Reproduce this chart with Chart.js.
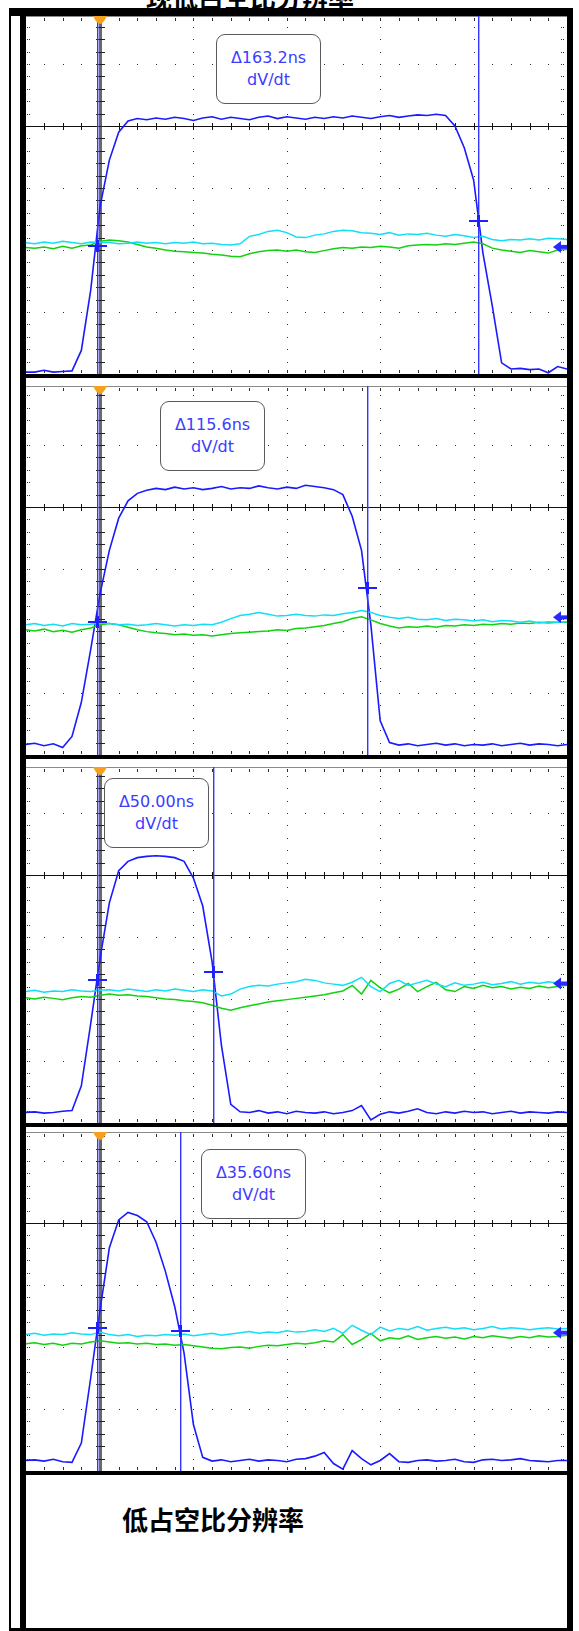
<!DOCTYPE html>
<html lang="zh">
<head>
<meta charset="UTF-8">
<title>dV/dt</title>
<script src="https://cdn.jsdelivr.net/npm/chart.js@4.4.0/dist/chart.umd.min.js"></script>
<style>
  html, body { margin: 0; padding: 0; background: #fff; }
  body { width: 579px; height: 1631px; position: relative; overflow: hidden; }
  .blk { position: absolute; background: #000; }
  .plot { position: absolute; left: 26px; }
  .box {
    position: absolute; width: 105px; height: 70px; box-sizing: border-box;
    border: 1.5px solid #5a5a5a; border-radius: 9px; background: #fff;
    color: #3c3cff; font: 16px "DejaVu Sans", sans-serif; line-height: 22px;
    text-align: center; padding-top: 12px;
  }
  .cap { position: absolute; font: bold 26px "Noto Sans CJK SC", sans-serif; line-height: 26px; color: #000; white-space: nowrap; }
</style>
</head>
<body>

<div class="cap" style="left:146px; top:-16px;">现低占空比分辨率</div>

<!-- outer frame -->
<div class="blk" style="left:9px; top:8px; width:564px; height:8px;"></div>
<div class="blk" style="left:9px; top:8px; width:2px; height:1623px;"></div>
<div class="blk" style="left:20px; top:8px; width:6px; height:1623px;"></div>
<div class="blk" style="left:567px; top:8px; width:6px; height:1623px;"></div>
<div class="blk" style="left:20px; top:374px; width:553px; height:4px;"></div>
<div class="blk" style="left:20px; top:755px; width:553px; height:4px;"></div>
<div class="blk" style="left:20px; top:1123px; width:553px; height:4px;"></div>
<div class="blk" style="left:20px; top:1471px; width:553px; height:4px;"></div>
<div class="blk" style="left:9px; top:1628px; width:564px; height:3px;"></div>

<canvas id="p1" class="plot" width="541" height="358" style="top:16px"></canvas>
<canvas id="p2" class="plot" width="541" height="369" style="top:386px"></canvas>
<canvas id="p3" class="plot" width="541" height="356" style="top:767px"></canvas>
<canvas id="p4" class="plot" width="541" height="339" style="top:1132px"></canvas>

<div class="cap" style="left:122px; top:1506px;">低占空比分辨率</div>

<script>
// time axis in ns (40 ns per division), trace values in divisions above the bottom edge
const TIME = [-32,-28,-24,-20,-16,-12,-8,-4,0,4,8,12,16,20,24,28,32,36,40,44,48,52,56,60,64,68,72,76,80,84,88,92,96,100,104,108,112,116,120,124,128,132,136,140,144,148,152,156,160,164,168,172,176,180,184,188,192,196,200];

const p1Blue = [0.03,0.03,0.06,0.03,0.04,0.05,0.38,1.35,2.7,3.45,3.9,4.08,4.12,4.1,4.13,4.11,4.14,4.12,4.09,4.13,4.15,4.11,4.14,4.12,4.1,4.14,4.16,4.12,4.15,4.13,4.11,4.14,4.12,4.15,4.13,4.16,4.14,4.12,4.15,4.17,4.14,4.16,4.18,4.17,4.19,4.17,4.0,3.65,3.13,1.95,1.1,0.18,0.08,0.09,0.07,0.08,0.02,0.12,0.08];
const p1Cyan = [2.12,2.10,2.13,2.11,2.14,2.12,2.10,2.13,2.12,2.12,2.10,2.11,2.13,2.11,2.12,2.10,2.12,2.11,2.13,2.10,2.11,2.09,2.08,2.10,2.22,2.25,2.30,2.32,2.28,2.21,2.20,2.24,2.26,2.30,2.32,2.31,2.28,2.27,2.25,2.28,2.24,2.26,2.25,2.27,2.24,2.22,2.25,2.23,2.20,2.22,2.17,2.15,2.17,2.16,2.18,2.16,2.19,2.18,2.17];
const p1Green = [2.04,2.03,2.05,2.02,2.06,2.03,2.07,2.08,2.14,2.16,2.15,2.13,2.09,2.05,2.03,2.0,1.98,1.97,1.96,1.95,1.93,1.92,1.90,1.89,1.94,1.97,1.99,2.0,1.98,2.0,1.97,1.96,1.99,2.02,2.04,2.03,2.05,2.04,2.06,2.05,2.03,2.07,2.08,2.09,2.08,2.1,2.09,2.11,2.13,2.1,2.03,2.0,1.98,1.96,1.99,1.97,1.95,2.0,2.01];

const p2Blue = [0.17,0.19,0.15,0.18,0.12,0.3,0.85,1.7,2.6,3.3,3.82,4.1,4.22,4.27,4.3,4.28,4.32,4.29,4.31,4.28,4.3,4.33,4.29,4.31,4.3,4.34,4.31,4.29,4.32,4.3,4.35,4.33,4.31,4.28,4.2,3.85,3.3,2.1,0.55,0.2,0.16,0.18,0.15,0.17,0.19,0.16,0.18,0.15,0.17,0.16,0.18,0.15,0.17,0.19,0.16,0.18,0.17,0.15,0.17];
const p2Cyan = [2.10,2.12,2.09,2.11,2.08,2.12,2.10,2.11,2.13,2.12,2.10,2.11,2.09,2.10,2.12,2.10,2.08,2.10,2.09,2.11,2.10,2.14,2.20,2.25,2.27,2.30,2.27,2.24,2.25,2.27,2.25,2.24,2.26,2.25,2.28,2.30,2.33,2.30,2.25,2.22,2.20,2.22,2.19,2.18,2.20,2.17,2.19,2.18,2.16,2.18,2.15,2.17,2.16,2.14,2.16,2.13,2.15,2.14,2.15];
const p2Green = [2.02,2.00,2.03,1.99,2.01,1.98,2.02,2.05,2.10,2.12,2.10,2.06,2.02,1.99,1.97,1.96,1.94,1.95,1.93,1.94,1.92,1.94,1.96,1.97,1.98,1.99,2.00,2.02,2.01,2.04,2.05,2.07,2.09,2.12,2.15,2.20,2.23,2.18,2.12,2.08,2.05,2.07,2.06,2.08,2.06,2.09,2.08,2.10,2.09,2.11,2.10,2.12,2.11,2.13,2.12,2.14,2.13,2.14,2.14];

const p3Blue = [0.17,0.18,0.16,0.17,0.19,0.2,0.6,1.6,2.65,3.55,4.07,4.22,4.28,4.3,4.31,4.3,4.28,4.22,3.95,3.5,2.6,1.25,0.3,0.18,0.17,0.2,0.16,0.18,0.15,0.19,0.17,0.16,0.18,0.15,0.17,0.2,0.28,0.05,0.14,0.18,0.16,0.19,0.23,0.17,0.15,0.18,0.16,0.19,0.17,0.18,0.15,0.17,0.19,0.16,0.18,0.17,0.16,0.18,0.17];
const p3Cyan = [2.12,2.14,2.11,2.13,2.12,2.15,2.13,2.12,2.14,2.15,2.13,2.16,2.14,2.12,2.15,2.13,2.16,2.14,2.12,2.15,2.13,2.05,2.08,2.16,2.2,2.22,2.21,2.24,2.26,2.28,2.32,2.3,2.26,2.24,2.22,2.27,2.35,2.2,2.12,2.25,2.3,2.22,2.26,2.3,2.24,2.2,2.26,2.22,2.24,2.27,2.23,2.25,2.28,2.24,2.27,2.25,2.28,2.26,2.25];
const p3Green = [2.02,2.0,2.03,2.01,1.99,2.02,2.04,2.03,2.06,2.08,2.06,2.07,2.05,2.04,2.02,2.0,1.99,1.97,1.96,1.94,1.9,1.85,1.82,1.86,1.89,1.92,1.95,1.97,1.99,2.01,2.03,2.05,2.07,2.1,2.13,2.22,2.08,2.3,2.18,2.1,2.16,2.25,2.12,2.2,2.27,2.15,2.12,2.2,2.17,2.22,2.18,2.2,2.16,2.19,2.17,2.21,2.18,2.2,2.22];

const p4Blue = [0.17,0.18,0.16,0.19,0.15,0.14,0.45,1.5,2.6,3.6,4.05,4.17,4.12,4.02,3.69,3.22,2.65,1.9,0.75,0.22,0.16,0.18,0.15,0.17,0.19,0.16,0.18,0.17,0.15,0.19,0.2,0.24,0.3,0.12,0.03,0.33,0.2,0.1,0.17,0.28,0.15,0.14,0.17,0.18,0.16,0.17,0.19,0.15,0.14,0.18,0.19,0.17,0.18,0.2,0.17,0.16,0.15,0.17,0.17];
const p4Cyan = [2.2,2.22,2.19,2.21,2.2,2.23,2.21,2.2,2.24,2.2,2.18,2.2,2.17,2.19,2.18,2.2,2.19,2.21,2.18,2.2,2.22,2.19,2.21,2.23,2.25,2.22,2.24,2.23,2.26,2.24,2.25,2.28,2.25,2.3,2.22,2.35,2.27,2.2,2.32,2.26,2.3,2.28,2.33,2.27,2.3,2.32,2.29,2.31,2.28,2.3,2.33,2.29,2.31,2.3,2.28,2.3,2.31,2.29,2.3];
const p4Green = [2.05,2.07,2.04,2.06,2.03,2.06,2.05,2.08,2.1,2.08,2.06,2.07,2.05,2.06,2.04,2.05,2.03,2.04,2.02,2.0,1.98,1.97,1.99,2.0,1.98,2.01,2.03,2.02,2.04,2.06,2.05,2.07,2.1,2.08,2.2,2.04,2.12,2.22,2.1,2.15,2.13,2.18,2.12,2.15,2.17,2.14,2.16,2.13,2.17,2.15,2.18,2.16,2.14,2.17,2.15,2.18,2.16,2.17,2.19];

// cursor readouts (ns), first cursor position, marker levels at each cursor, channel ground arrows
const deltas = [163.2, 115.6, 50.00, 35.60];
const CURSOR_A = -1.4;
const crossLevels = [[2.06, 2.46], [2.15, 2.69], [2.30, 2.44], [2.31, 2.26]];
const arrowLevels = [2.05, 2.22, 2.25, 2.23];

const X_MIN = -31.7, X_MAX = 200;

const scopeGrid = {
  id: 'scopeGrid',
  beforeDatasetsDraw(chart) {
    const {ctx, chartArea: a, scales: {x, y}} = chart;
    const px = v => Math.round(x.getPixelForValue(v));
    const py = v => Math.round(y.getPixelForValue(v));
    const minorX = [], minorY = [];
    for (let k = -3; k <= 24; k++) minorX.push(k * 8);
    for (let k = 1; k * 0.2 < y.max; k++) minorY.push(k * 0.2);
    ctx.save();
    ctx.fillStyle = '#8a8a8a';
    ctx.fillRect(a.left, a.top, a.right - a.left, 1);
    ctx.fillStyle = '#2e2e2e';
    // dotted division lines
    [40, 80, 120, 160].forEach(t => minorY.forEach(v => ctx.fillRect(px(t), py(v), 1, 1)));
    [1, 2, 3, 5].filter(v => v < y.max).forEach(v => minorX.forEach(t => ctx.fillRect(px(t), py(v), 1, 1)));
    // edge ticks
    minorX.forEach(t => {
      ctx.fillRect(px(t), a.top + 2, 1, 3);
      ctx.fillRect(px(t), a.bottom - 4, 1, 3);
    });
    minorY.forEach(v => {
      ctx.fillRect(a.left + 1, py(v), 1, 1);
      ctx.fillRect(a.left + 3, py(v), 1, 1);
      ctx.fillRect(a.right - 6, py(v), 1, 1);
      ctx.fillRect(a.right - 4, py(v), 1, 1);
    });
    // centre graticule line
    ctx.fillStyle = '#111';
    const yc = py(4);
    ctx.fillRect(a.left, yc, a.right - a.left, 1);
    minorX.forEach(t => ctx.fillRect(px(t), yc - 3, 1, 7));
    // trigger position
    const x0 = px(0);
    ctx.fillStyle = '#6a6a6a';
    ctx.fillRect(x0 - 1, a.top, 3, a.bottom - a.top);
    ctx.fillStyle = '#222';
    minorY.forEach(v => ctx.fillRect(x0 - 4, py(v), 9, 1));
    ctx.restore();
  },
  afterDatasetsDraw(chart, args, opts) {
    const {ctx, chartArea: a, scales: {x, y}} = chart;
    ctx.save();
    // time cursors with their crossing markers
    opts.cursors.forEach((c, i) => {
      const xc = Math.round(x.getPixelForValue(c));
      ctx.fillStyle = '#3535ff';
      ctx.fillRect(xc, a.top, 1, a.bottom - a.top);
      ctx.fillStyle = 'rgba(70,70,255,0.45)';
      ctx.fillRect(xc + 1, a.top, 1, a.bottom - a.top);
      const ym = Math.round(y.getPixelForValue(opts.crosses[i]));
      ctx.fillStyle = '#2020ff';
      ctx.fillRect(xc - 9, ym - 1, 19, 2);
      ctx.fillRect(xc - 1, ym - 6, 3, 12);
    });
    // trigger marker
    const x0 = x.getPixelForValue(0);
    ctx.fillStyle = '#f5a01e';
    ctx.beginPath();
    ctx.moveTo(x0 - 7, a.top);
    ctx.lineTo(x0 + 7, a.top);
    ctx.quadraticCurveTo(x0 + 3, a.top + 8, x0, a.top + 8);
    ctx.quadraticCurveTo(x0 - 3, a.top + 8, x0 - 7, a.top);
    ctx.fill();
    // channel ground arrow
    const ya = y.getPixelForValue(opts.arrow);
    ctx.fillStyle = '#2a2aff';
    ctx.beginPath();
    ctx.moveTo(a.right - 14, ya);
    ctx.lineTo(a.right - 6, ya - 6);
    ctx.lineTo(a.right - 6, ya + 6);
    ctx.closePath();
    ctx.fill();
    ctx.fillRect(a.right - 7, ya - 2, 7, 4);
    ctx.restore();
  }
};

function trace(values, color, width) {
  return {
    data: TIME.map((t, i) => ({x: t, y: values[i]})),
    borderColor: color, borderWidth: width, pointRadius: 0, tension: 0
  };
}

function makePanel(id, blue, cyan, green, n, boxLeft, boxTop) {
  const canvas = document.getElementById(id);
  const ymax = canvas.height / 62;
  new Chart(canvas.getContext('2d'), {
    type: 'line',
    data: {
      datasets: [
        trace(cyan, '#12def5', 1.5),
        trace(green, '#12d212', 1.5),
        trace(blue, '#1a1aff', 1.6)
      ]
    },
    options: {
      responsive: false,
      animation: false,
      events: [],
      layout: {padding: 0},
      plugins: {
        legend: {display: false},
        tooltip: {enabled: false},
        scopeGrid: {
          arrow: arrowLevels[n],
          cursors: [CURSOR_A, CURSOR_A + deltas[n]],
          crosses: crossLevels[n]
        }
      },
      scales: {
        x: {type: 'linear', min: X_MIN, max: X_MAX, display: false},
        y: {type: 'linear', min: 0, max: ymax, display: false}
      }
    },
    plugins: [scopeGrid]
  });

  const box = document.createElement('div');
  box.className = 'box';
  box.style.left = boxLeft + 'px';
  box.style.top = boxTop + 'px';
  box.innerHTML = '\u0394' + deltas[n].toPrecision(4) + 'ns<br>dV/dt';
  document.body.appendChild(box);
}

makePanel('p1', p1Blue, p1Cyan, p1Green, 0, 216, 34);
makePanel('p2', p2Blue, p2Cyan, p2Green, 1, 160, 401);
makePanel('p3', p3Blue, p3Cyan, p3Green, 2, 104, 778);
makePanel('p4', p4Blue, p4Cyan, p4Green, 3, 201, 1149);
</script>

</body>
</html>
